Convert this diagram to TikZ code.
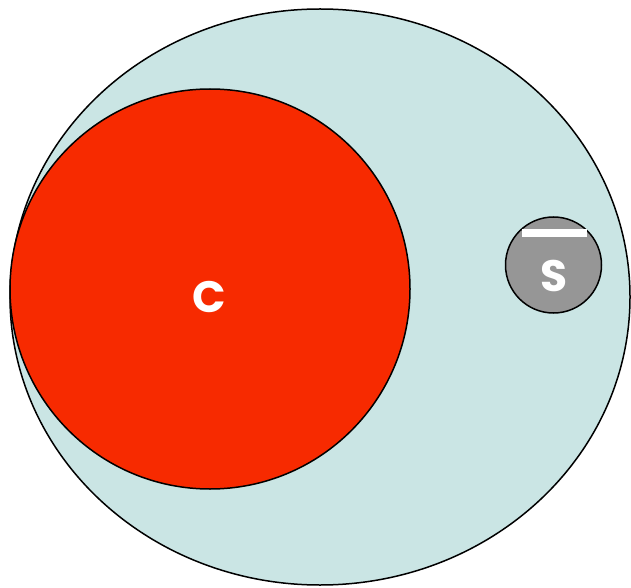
\documentclass[tikz,border=0pt]{standalone}
\usepackage{fontspec}
\newfontfamily\labelfont{Poppins}[UprightFont=* Bold]
\definecolor{outerfill}{RGB}{202,229,228}
\definecolor{redfill}{RGB}{247,42,0}
\definecolor{grayfill}{RGB}{150,150,150}
\begin{document}
\begin{tikzpicture}[x=1pt,y=1pt,
  outline/.style={draw=black,line width=1.5pt},
  lbl/.style={text=white,font=\labelfont\fontsize{44}{44}\selectfont,inner sep=0pt}]
\useasboundingbox (0,0) rectangle (631,587);
\draw[outline,fill=outerfill] (320,290) ellipse [x radius=310,y radius=288];
\draw[outline,fill=redfill] (210,298) circle [radius=200];
\draw[outline,fill=grayfill] (553.5,322) circle [radius=48];
\fill[white] (522,350) rectangle (587,358);
\node[lbl] (c) at (209,290) {C};
\node[lbl] (s) at (554.5,311) {S};
\end{tikzpicture}
\end{document}
